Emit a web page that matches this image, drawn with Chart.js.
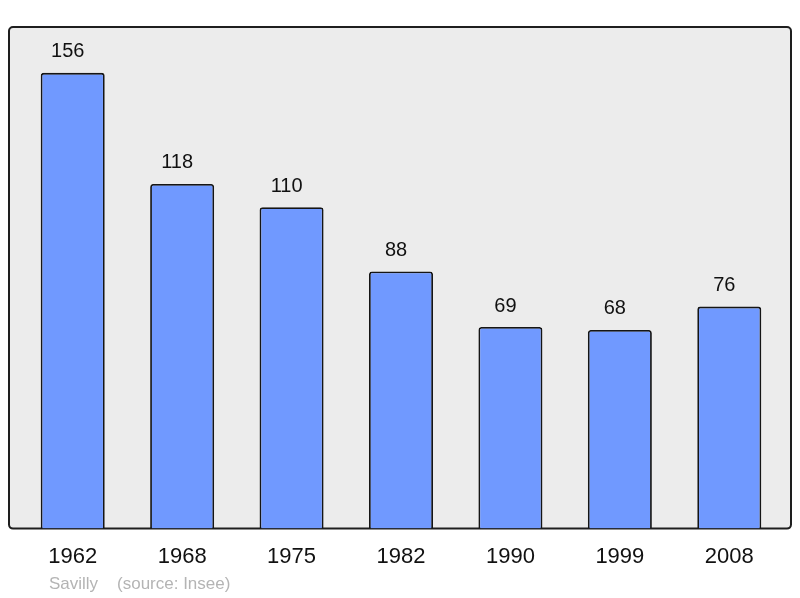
<!DOCTYPE html>
<html>
<head>
<meta charset="utf-8">
<script src="https://cdn.jsdelivr.net/npm/chart.js@4/dist/chart.umd.min.js"></script>
<style>
  html, body { margin: 0; padding: 0; background: #ffffff; }
  #wrap { width: 800px; height: 598px; }
</style>
</head>
<body>
<div id="wrap"><canvas id="popChart" width="800" height="598"></canvas></div>
<script>
var years = ["1962", "1968", "1975", "1982", "1990", "1999", "2008"]; // recensements
var population = [156, 118, 110, 88, 69, 68, 76];
var footerText = "Savilly    (source: Insee)";

// cadre gris arrondi derriere les barres
var framePlugin = {
  id: "frame",
  beforeDatasetsDraw: function(chart){
    var ctx = chart.ctx, a = chart.chartArea;
    var x = a.left - 9, y = a.top, w = (a.right + 7) - x, h = a.bottom - a.top, r = 4;
    ctx.save();
    ctx.beginPath();
    ctx.moveTo(x + r, y);
    ctx.arcTo(x + w, y, x + w, y + h, r);
    ctx.arcTo(x + w, y + h, x, y + h, r);
    ctx.arcTo(x, y + h, x, y, r);
    ctx.arcTo(x, y, x + w, y, r);
    ctx.closePath();
    ctx.fillStyle = "#ececec";
    ctx.fill();
    ctx.lineWidth = 2;
    ctx.strokeStyle = "#1e1e1e";
    ctx.stroke();
    ctx.restore();
  }
};

// valeurs au-dessus des barres + source en bas
var labelPlugin = {
  id: "valueLabels",
  afterDatasetsDraw: function(chart){
    var ctx = chart.ctx;
    var meta = chart.getDatasetMeta(0);
    ctx.save();
    ctx.font = "20px 'Liberation Sans', Arial, sans-serif";
    ctx.fillStyle = "#111111";
    ctx.textAlign = "center";
    ctx.textBaseline = "middle";
    for(var i = 0; i < meta.data.length; i++){
      var bar = meta.data[i];
      ctx.fillText(population[i], bar.x - 5, bar.y - 21);
    }
    ctx.font = "17px 'Liberation Sans', Arial, sans-serif";
    ctx.fillStyle = "#b4b4b4";
    ctx.textAlign = "left";
    ctx.fillText(footerText, 49, 584);
    ctx.restore();
  }
};

var chart = new Chart(document.getElementById("popChart"), {
  type: "bar",
  data: {
    labels: years,
    datasets: [{
      data: population,
      backgroundColor: "#7099ff",
      borderColor: "#151515",
      borderWidth: 1.8,
      borderSkipped: "bottom",
      borderRadius: { topLeft: 3, topRight: 3, bottomLeft: 0, bottomRight: 0 },
      barPercentage: 0.585,
      categoryPercentage: 1.0
    }]
  },
  options: {
    responsive: false,
    animation: false,
    layout: { padding: { left: 18, right: 16, top: 27, bottom: 13 } },
    plugins: {
      legend: { display: false },
      tooltip: { enabled: false }
    },
    scales: {
      x: {
        grid: { display: false, drawTicks: false },
        border: { display: false },
        ticks: {
          padding: 15,
          color: "#111111",
          font: { family: "'Liberation Sans', Arial, sans-serif", size: 22 }
        }
      },
      y: {
        display: false,
        min: 0,
        max: 171.7
      }
    }
  },
  plugins: [framePlugin, labelPlugin]
});
</script>
</body>
</html>
